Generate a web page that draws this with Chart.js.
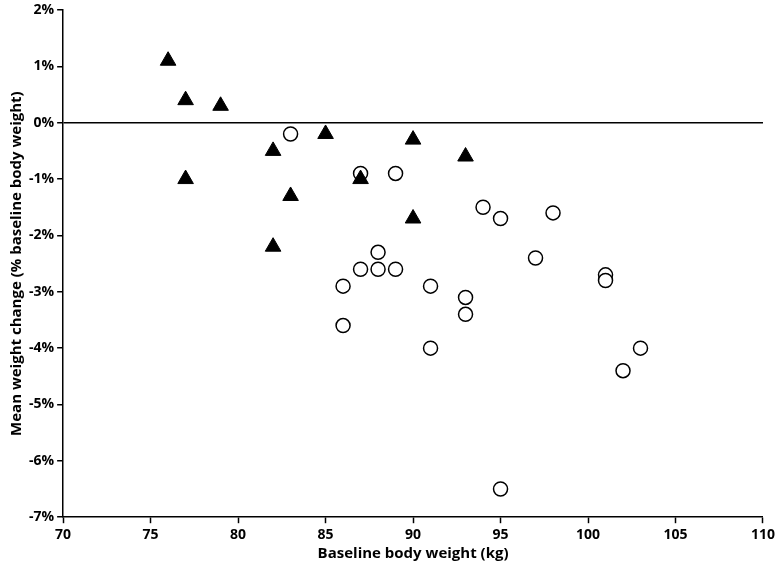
<!DOCTYPE html>
<html>
<head>
<meta charset="utf-8">
<script src="https://cdn.jsdelivr.net/npm/chart.js@4.4.1/dist/chart.umd.min.js"></script>
<style>
  html, body { margin: 0; padding: 0; background: #fff; }
  #wrap { width: 778px; height: 573px; }
</style>
</head>
<body>
<div id="wrap"><canvas id="scatterChart"></canvas></div>
<script>
// baseline body weight (kg) and mean weight change (%)
var triX = [76, 77, 79, 77, 82, 82, 83, 85, 87, 90, 90, 93];
var triY = [1.1, 0.4, 0.3, -1.0, -0.5, -2.2, -1.3, -0.2, -1.0, -0.3, -1.7, -0.6];

var circX = [83, 87, 89, 88, 87, 88, 89, 86, 91, 86, 91, 93, 93, 94, 95, 98, 97, 101, 101, 103, 102, 95];
var circY = [-0.2, -0.9, -0.9, -2.3, -2.6, -2.6, -2.6, -2.9, -2.9, -3.6, -4.0, -3.1, -3.4, -1.5, -1.7, -1.6, -2.4, -2.7, -2.8, -4.0, -4.4, -6.5];

var xTicks = [70, 75, 80, 85, 90, 95, 100, 105, 110];
var yTicks = [2, 1, 0, -1, -2, -3, -4, -5, -6, -7];

function toPoints(xs, ys){
	var pts = [];
	for(var i = 0; i < xs.length; i++){
		pts.push({x: xs[i], y: ys[i]});
	}
	return pts;
}

var tickFont = {family: "'Open Sans', sans-serif", size: 14, weight: "bold"};
var yTickFont = {family: "'Open Sans', sans-serif", size: 14, weight: "bold", lineHeight: 0.9};
var titleFont = {family: "'Open Sans', sans-serif", size: 15, weight: "bold", lineHeight: 1};

new Chart(document.getElementById("scatterChart"), {
	type: "scatter",
	data: {
		datasets: [
			{
				label: "triangles",
				data: toPoints(triX, triY),
				pointStyle: "triangle",
				pointRadius: 9,
				backgroundColor: "#000",
				borderColor: "#000",
				borderWidth: 1
			},
			{
				label: "circles",
				data: toPoints(circX, circY),
				pointStyle: "circle",
				pointRadius: 7,
				backgroundColor: "#fff",
				borderColor: "#000",
				borderWidth: 1.5
			}
		]
	},
	options: {
		responsive: true,
		maintainAspectRatio: false,
		animation: false,
		layout: {padding: {top: 0, right: 8, left: 5, bottom: 8}},
		plugins: {
			legend: {display: false},
			tooltip: {enabled: false}
		},
		scales: {
			x: {
				type: "linear",
				min: 70,
				max: 110,
				afterBuildTicks: function(axis){
					axis.ticks = xTicks.map(function(v){ return {value: v}; });
				},
				border: {color: "#000", width: 1.5},
				grid: {drawOnChartArea: false, tickColor: "#000", tickLength: 6, tickWidth: 1.5},
				ticks: {color: "#000", font: tickFont, padding: 3, maxRotation: 0},
				title: {display: true, text: "Baseline body weight (kg)", color: "#000", font: titleFont, padding: {top: 0}}
			},
			y: {
				type: "linear",
				min: -7,
				max: 2,
				afterBuildTicks: function(axis){
					axis.ticks = yTicks.map(function(v){ return {value: v}; });
				},
				border: {color: "#000", width: 1.5},
				grid: {
					color: function(ctx){ return ctx.tick && ctx.tick.value === 0 ? "#000" : "rgba(0,0,0,0)"; },
					lineWidth: 1.5,
					tickColor: "#000",
					tickLength: 6,
					tickWidth: 1.5
				},
				ticks: {
					color: "#000",
					font: yTickFont,
					padding: 3,
					callback: function(v){ return v + "%"; }
				},
				title: {display: true, text: "Mean weight change (% baseline body weight)", color: "#000", font: titleFont, padding: {bottom: 2}}
			}
		}
	}
});
</script>
</body>
</html>
